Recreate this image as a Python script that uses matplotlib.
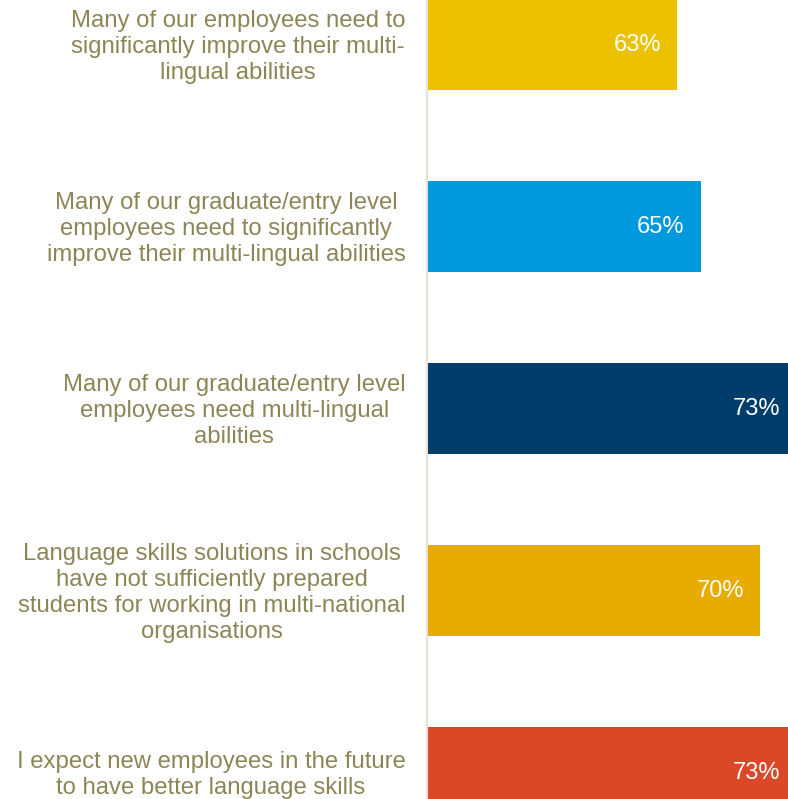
import matplotlib.pyplot as plt
from matplotlib.transforms import ScaledTranslation

plt.rcParams["font.family"] = ["Liberation Sans", "DejaVu Sans"]

statements = [
    "Many of our employees need to\nsignificantly improve their multi-\nlingual abilities",
    "Many of our graduate/entry level\nemployees need to significantly\nimprove their multi-lingual abilities",
    "Many of our graduate/entry level\nemployees need multi-lingual\nabilities",
    "Language skills solutions in schools\nhave not sufficiently prepared\nstudents for working in multi-national\norganisations",
    "I expect new employees in the future\nto have better language skills",
]
agree_pct = [63, 65, 73, 70, 73]
bar_colors = ["#ecc200", "#0099dd", "#003d6b", "#e8ab00", "#db4828"]

text_color = "#8c8657"

fig = plt.figure(figsize=(7.88, 7.99), dpi=100)
ax = fig.add_axes([427 / 788, 0, 1 - 427 / 788, 1])

ypos = list(range(len(agree_pct)))
ax.barh(ypos, agree_pct, height=0.5, color=bar_colors, zorder=2)

# value labels sit inside the bar end; the longest bars run past the frame
for y, v in zip(ypos, agree_pct):
    ax.annotate(f"{v}%", xy=(v, y), xytext=(-11.5, 0), textcoords="offset points",
                ha="right", va="center", color="white", fontsize=17, zorder=3,
                annotation_clip=False)

ax.set_xlim(42, 72.34)
ax.set_ylim(4.143, -0.247)

ax.set_yticks(ypos)
ax.set_yticklabels(statements, fontsize=17.2, color=text_color, multialignment="center",
                   linespacing=1.24)
ax.tick_params(axis="y", length=0, pad=15.5)
ax.set_xticks([])

# nudge the statement blocks up a touch so the last one fits the frame
nudge = ScaledTranslation(0, 2 / 72, fig.dpi_scale_trans)
for lbl in ax.get_yticklabels():
    lbl.set_transform(lbl.get_transform() + nudge)

for side in ["top", "right", "bottom"]:
    ax.spines[side].set_visible(False)
ax.spines["left"].set_color("#e6e3d6")
ax.spines["left"].set_linewidth(1.5)

fig.savefig("out.png", dpi=100)
